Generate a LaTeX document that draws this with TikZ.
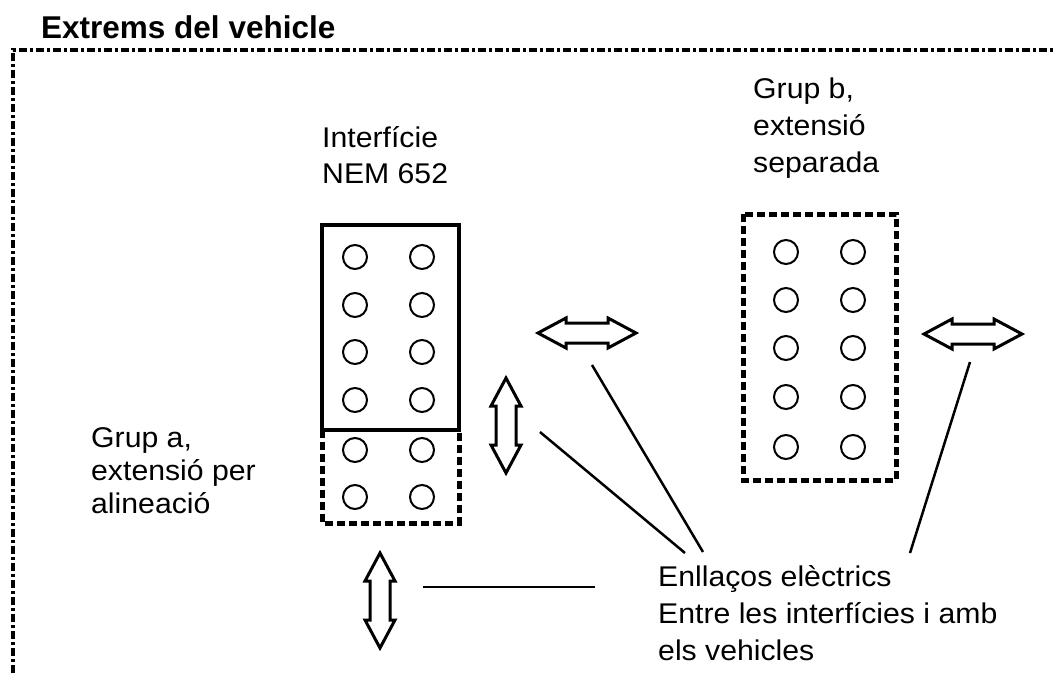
\documentclass[tikz,border=0pt]{standalone}
\usepackage{fontspec}
\setmainfont{Liberation Sans}[FakeStretch=1.06]
\newfontfamily\titlefont{Liberation Sans}[FakeStretch=1.0]
\newcommand\HArrow[3]{%
  \draw[blockarrow] (#1,#3) -- ++(28,-15) -- ++(0,5) -- (#2-28,#3-10) -- ++(0,-5) -- (#2,#3)
    -- ++(-28,15) -- ++(0,-5) -- (#1+28,#3+10) -- ++(0,5) -- cycle;}
\newcommand\VArrow[3]{%
  \draw[blockarrow] (#3,#1) -- ++(-15,28) -- ++(5,0) -- (#3-10,#2-28) -- ++(-5,0) -- (#3,#2)
    -- ++(15,-28) -- ++(-5,0) -- (#3+10,#1+28) -- ++(5,0) -- cycle;}
\begin{document}
\begin{tikzpicture}[x=1pt,y=-1pt,
  txt/.style={anchor=base west, align=left, inner sep=0pt, font=\fontsize{28.5}{35}\selectfont},
  pin/.style={circle, draw, line width=2pt, minimum size=24pt, inner sep=0pt},
  frameline/.style={line width=3.5pt, dash pattern=on 8pt off 3pt on 3pt off 3pt},
  solidbox/.style={draw, line width=4.5pt},
  dashbox/.style={line width=5pt, dash pattern=on 8pt off 4pt},
  link/.style={line width=2.5pt},
  blockarrow/.style={line width=3pt, line join=miter}]
\useasboundingbox (0,0) rectangle (1054,673);
\fill[white] (0,0) rectangle (1054,673);

% title and frame
\node[anchor=base west, inner sep=0pt, font=\titlefont\bfseries\fontsize{31.5}{36}\selectfont] (title) at (41,38) {Extrems del vehicle};
\draw[frameline] (13,673) -- (13,50) -- (1054,50);

% texts (anchor = baseline of the last line)
\node[txt, font=\fontsize{28.5}{36}\selectfont] (nem) at (322,183) {Interfície\\NEM 652};
\node[txt, font=\fontsize{28.5}{37}\selectfont] (grpb) at (753,172) {Grup b,\\extensió\\separada};
\node[txt, font=\fontsize{28.5}{33}\selectfont] (grpa) at (91,513) {Grup a,\\extensió per\\alineació};
\node[txt, font=\fontsize{28.5}{37}\selectfont] (links) at (658,660) {Enllaços elèctrics\\Entre les interfícies i amb\\els vehicles};

% NEM 652 interface box and extension
\draw[solidbox] (322,430) -- (322,225) -- (459,225) -- (459,430) -- cycle;
\draw[dashbox] (322,430) -- (322,523) -- (459,523) -- (459,430);
\foreach \y [count=\i] in {257,305,352,400,450,497} {
  \node[pin] (a\i l) at (355,\y) {};
  \node[pin] (a\i r) at (422,\y) {};
}

% group b box
\draw[dashbox] (743,214) rectangle (896,480);
\foreach \y [count=\i] in {252,300,348,397,447} {
  \node[pin] (b\i l) at (786,\y) {};
  \node[pin] (b\i r) at (853,\y) {};
}

% block double arrows
\HArrow{538}{636}{333}
\HArrow{924}{1022}{334}
\VArrow{378}{473}{506}
\VArrow{553}{648}{380}

% connector ends
\coordinate (c1s) at (423,587);
\coordinate (c1e) at (595,587);
\coordinate (c2s) at (540,432);
\coordinate (c2e) at (685,553);
\coordinate (c3s) at (592,365);
\coordinate (c3e) at (703,552);
\coordinate (c4s) at (970,362);
\coordinate (c4e) at (910,553);
\draw[link] (c1s) -- (c1e);
\draw[link] (c2s) -- (c2e);
\draw[link] (c3s) -- (c3e);
\draw[link] (c4s) -- (c4e);
\end{tikzpicture}
\end{document}
